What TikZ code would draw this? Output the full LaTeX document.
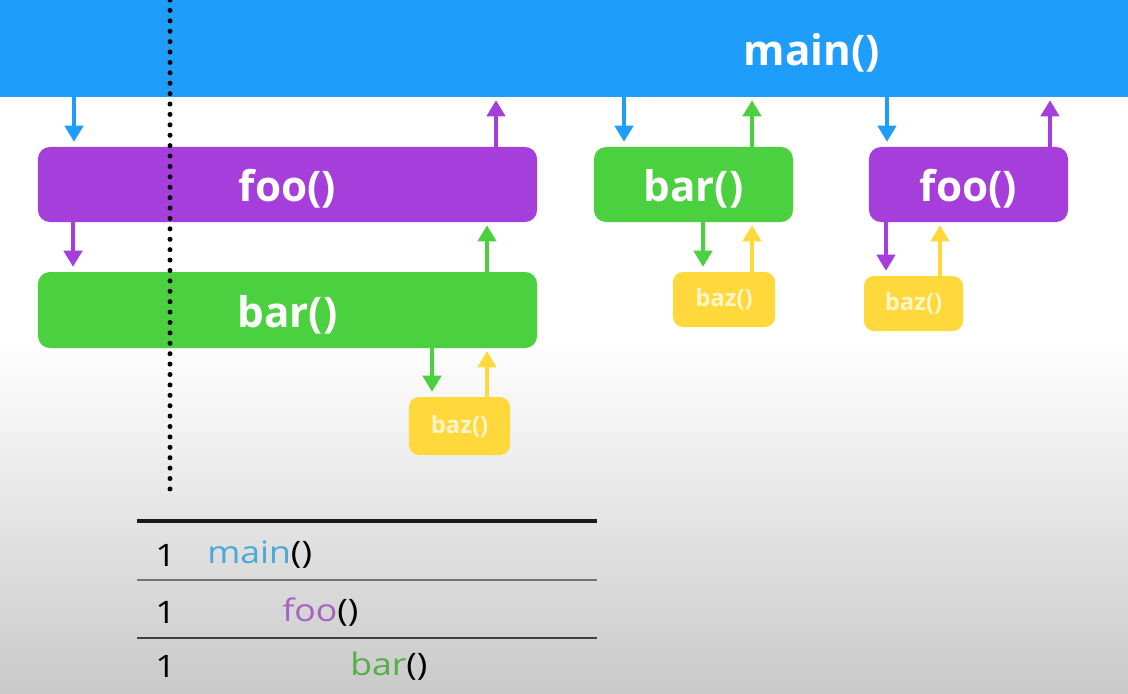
\documentclass[tikz,border=0pt]{standalone}
\usepackage{fontspec}
\setmainfont{Open Sans}
\newfontfamily\tabfont[FakeStretch=1.15]{Open Sans}
\usetikzlibrary{arrows.meta,calc}
\definecolor{cmain}{HTML}{1E9EFA}
\definecolor{cfoo}{HTML}{A63EDC}
\definecolor{cbar}{HTML}{4BD03F}
\definecolor{cbaz}{HTML}{FFD93C}
\definecolor{cbaztxt}{HTML}{FFF5C8}
\definecolor{tmain}{HTML}{4AA9D6}
\definecolor{tfoo}{HTML}{A464C2}
\definecolor{tbar}{HTML}{52B044}
\newcommand{\lowered}[1]{\raisebox{-1.1mm}[\height][\depth]{#1}}
\tikzset{
  fbox/.style={rectangle, rounded corners=3mm, inner sep=0pt, text=white,
    font=\fontsize{30}{30}\selectfont\bfseries},
  bazbox/.style={rectangle, rounded corners=2.5mm, inner sep=0pt, fill=cbaz,
    text=cbaztxt, font=\fontsize{17}{17}\selectfont\bfseries},
  arr/.style={line width=0.8mm, -{Triangle[width=4.6mm,length=4mm]}},
  dn/.style={arr, shorten >=1.25mm},
  up/.style={arr, shorten >=0.75mm},
  ttxt/.style={inner sep=0pt, font=\tabfont\fontsize{22}{22}\selectfont, anchor=west},
}
\begin{document}
\begin{tikzpicture}[x=0.025cm,y=-0.025cm]
\useasboundingbox (0,0) rectangle (1128,693);
\fill[white] (0,0) rectangle (1128,340);
\shade[top color=white, bottom color=black!21] (0,340) rectangle (1128,693);

% main bar
\node[rectangle, fill=cmain, inner sep=0pt, minimum width=282mm, minimum height=24.25mm] (main) at (564,48.5) {};
\node[text=white, inner sep=0pt, font=\fontsize{30}{30}\selectfont\bfseries] (mainlbl) at (812,53) {main()};

% boxes
\node[fbox, fill=cfoo, minimum width=124.75mm, minimum height=18.75mm] (foo1) at (287.5,184.5) {\lowered{foo()}};
\node[fbox, fill=cbar, minimum width=124.75mm, minimum height=19mm] (bar1) at (287.5,310) {\lowered{bar()}};
\node[bazbox, minimum width=25.25mm, minimum height=14.5mm] (baz1) at (459.5,426) {baz()};
\node[fbox, fill=cbar, minimum width=49.75mm, minimum height=18.75mm] (bar2) at (693.5,184.5) {\lowered{bar()}};
\node[fbox, fill=cfoo, minimum width=49.75mm, minimum height=18.75mm] (foo2) at (968.5,184.5) {\lowered{foo()}};
\node[bazbox, minimum width=25.5mm, minimum height=13.75mm] (baz2) at (724,299.5) {baz()};
\node[bazbox, minimum width=24.75mm, minimum height=13.75mm] (baz3) at (913.5,303.5) {baz()};

% dotted line
\coordinate (dtop) at (170,0);
\coordinate (dbot) at (170,490);
\draw[line width=1.25mm, line cap=round, dash pattern=on 0pt off 2.6mm] (dtop) -- (dbot);

% arrows
\draw[dn, cmain] (main.south -| 74,0) -- (foo1.north -| 74,0);
\draw[up, cfoo] (foo1.north -| 496,0) -- (main.south -| 496,0);
\draw[dn, cfoo] (foo1.south -| 73,0) -- (bar1.north -| 73,0);
\draw[up, cbar] (bar1.north -| 487,0) -- (foo1.south -| 487,0);
\draw[dn, cbar] (bar1.south -| 432,0) -- (baz1.north -| 432,0);
\draw[up, cbaz] (baz1.north -| 487,0) -- (bar1.south -| 487,0);

\draw[dn, cmain] (main.south -| 624,0) -- (bar2.north -| 624,0);
\draw[up, cbar] (bar2.north -| 752,0) -- (main.south -| 752,0);
\draw[dn, cbar] (bar2.south -| 703,0) -- (baz2.north -| 703,0);
\draw[up, cbaz] (baz2.north -| 752,0) -- (bar2.south -| 752,0);

\draw[dn, cmain] (main.south -| 887,0) -- (foo2.north -| 887,0);
\draw[up, cfoo] (foo2.north -| 1050,0) -- (main.south -| 1050,0);
\draw[dn, cfoo] (foo2.south -| 886,0) -- (baz3.north -| 886,0);
\draw[up, cbaz] (baz3.north -| 940,0) -- (foo2.south -| 940,0);

% table
\coordinate (t0l) at (137,521); \coordinate (t0r) at (597,521);
\coordinate (t1l) at (137,580); \coordinate (t1r) at (597,580);
\coordinate (t2l) at (137,638); \coordinate (t2r) at (597,638);
\draw[line width=0.8mm, black!90] (t0l) -- (t0r);
\draw[line width=0.4mm, black!55] (t1l) -- (t1r);
\draw[line width=0.55mm, black!75] (t2l) -- (t2r);

\node[ttxt] (n1) at (155,555) {1};
\node[ttxt] (r1) at (207,555) {\textcolor{tmain}{main}()};
\node[ttxt] (n2) at (155,612) {1};
\node[ttxt] (r2) at (282,612) {\textcolor{tfoo}{foo}()};
\node[ttxt] (n3) at (155,666) {1};
\node[ttxt] (r3) at (350,666) {\textcolor{tbar}{bar}()};
\end{tikzpicture}
\end{document}
